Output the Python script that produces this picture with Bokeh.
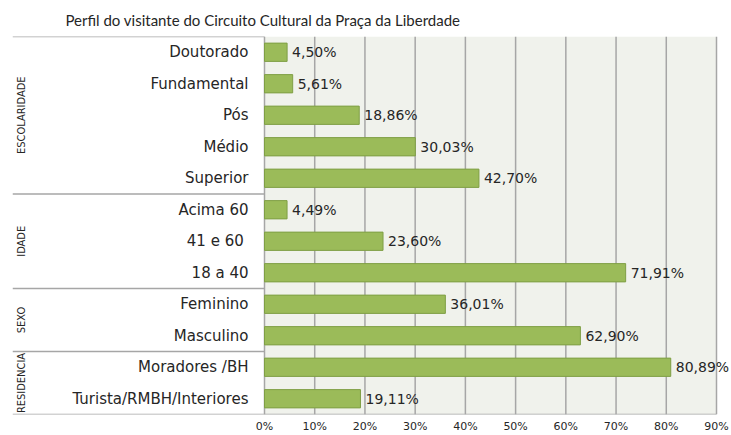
import math
from bokeh.plotting import figure
from bokeh.models import (FactorRange, ColumnDataSource, FixedTicker, LinearAxis,
                          CustomJSTickFormatter, LabelSet)
from bokeh.embed import file_html
from bokeh.resources import INLINE
from bokeh.core.properties import value

title = "Perfil do visitante do Circuito Cultural da Praça da Liberdade"
groups = ["ESCOLARIDADE"] * 5 + ["IDADE"] * 3 + ["SEXO"] * 2 + ["RESIDENCIA"] * 2
categories = ["Doutorado", "Fundamental", "Pós", "Médio", "Superior",
              "Acima 60", "41 e 60 ", "18 a 40",
              "Feminino", "Masculino",
              "Moradores /BH", "Turista/RMBH/Interiores"]
values = [4.50, 5.61, 18.86, 30.03, 42.70,
          4.49, 23.60, 71.91,
          36.01, 62.90,
          80.89, 19.11]
x_ticks = [0, 10, 20, 30, 40, 50, 60, 70, 80, 90]

factors = list(zip(groups, categories))[::-1]
vals = values[::-1]
labels = [("%.2f%%" % v).replace(".", ",") for v in vals]
group_names = list(dict.fromkeys(groups))

# layout (pixels on the canvas)
W, H = 731, 435
PLOT_L, PLOT_R = 264, 716       # 0% and 90%
BOX_L = 12                      # left edge of the category box
TOP, BOTTOM = 35, 418
XMAX = 90
ppu = (PLOT_R - PLOT_L) / XMAX
def px_to_x(px):
    return (px - PLOT_L) / ppu

x0 = px_to_x(BOX_L)
x1 = px_to_x(W)

n = len(factors)
# group boundaries in synthetic categorical coordinates (bottom = 0)
bounds = []
acc = 0
rev_groups = groups[::-1]
for g in list(dict.fromkeys(rev_groups))[:-1]:
    acc += rev_groups.count(g)
    bounds.append(acc)

src = ColumnDataSource(dict(y=factors, v=vals, lab=labels, c=[c for _, c in factors]))

p = figure(width=W, height=H, output_backend="svg", toolbar_location=None,
           y_range=FactorRange(*factors, factor_padding=0, group_padding=0,
                               subgroup_padding=0, range_padding=0),
           x_range=(x0, x1), min_border_right=0, min_border_bottom=H - BOTTOM,
           min_border_left=BOX_L, min_border_top=TOP, x_axis_type=None, y_axis_type=None)

p.title.text = title
p.title.text_font = "Lato"
p.title.text_font_size = "15px"
p.title.text_font_style = "normal"
p.title.text_color = "#262626"
p.title.align = "left"
p.title.offset = 65 - BOX_L
p.title.standoff = 16

p.background_fill_color = "white"
p.border_fill_color = "white"
p.outline_line_color = None
p.xgrid.grid_line_color = None
p.ygrid.grid_line_color = None

# light panel behind the bars (0% .. 90%)
p.quad(left=[0], right=[XMAX], bottom=[0], top=[n],
       fill_color="#F0F2EC", line_color=None)

# vertical grid lines (0% .. 90%)
p.segment(x0=x_ticks, x1=x_ticks, y0=[0] * len(x_ticks), y1=[n] * len(x_ticks),
          line_color="#A6A6A6", line_width=1.5)

# box lines of the category area
p.segment(x0=[x0] * (len(bounds) + 1) + [x0], y0=bounds + [n] + [0],
          x1=[0] * (len(bounds) + 1) + [XMAX], y1=bounds + [n] + [0],
          line_color="#A6A6A6", line_width=1.5)

p.hbar(y="y", right="v", left=0, height=0.58, source=src,
       fill_color="#9BBB59", line_color="#7F9F45", line_width=1)

p.add_layout(LabelSet(x="v", y="y", text="lab", source=src, x_offset=5,
                      text_baseline="middle", text_align="left",
                      text_font=value("DejaVu Sans"), text_font_size="14px",
                      text_color="#262626"))

# category labels
p.add_layout(LabelSet(x=0, y="y", text="c", source=src, x_offset=-16,
                      text_baseline="middle", text_align="right",
                      text_font=value("DejaVu Sans"), text_font_size="15px",
                      text_color="#262626"))

# group labels
gsrc = ColumnDataSource(dict(y=group_names, x=[px_to_x(21)] * len(group_names), t=group_names))
p.add_layout(LabelSet(x="x", y="y", text="t", source=gsrc, angle=math.pi / 2,
                      text_align="center", text_baseline="middle",
                      text_font=value("DejaVu Sans Condensed"),
                      text_font_size="11px", text_color="#262626"))

xa = LinearAxis(ticker=FixedTicker(ticks=x_ticks))
xa.formatter = CustomJSTickFormatter(code="return tick + '%';")
xa.axis_line_color = None
xa.major_tick_line_color = None
xa.minor_tick_line_color = None
xa.major_tick_out = 0
xa.major_tick_in = 0
xa.major_label_standoff = 5
xa.major_label_text_font = "DejaVu Sans"
xa.major_label_text_font_size = "11px"
xa.major_label_text_color = "#262626"
p.add_layout(xa, "below")

open("out.html", "w").write(file_html(p, INLINE))
